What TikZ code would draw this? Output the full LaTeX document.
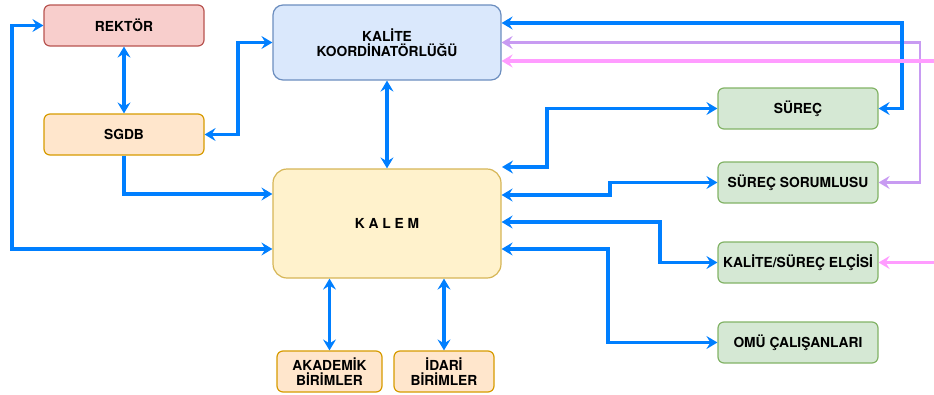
\documentclass[tikz,border=0pt]{standalone}
\usepackage{fontspec}
\setmainfont{TeX Gyre Heros}
\usetikzlibrary{arrows.meta,calc}
\definecolor{cblue}{HTML}{007FFF}
\definecolor{cpurple}{HTML}{C89BF2}
\definecolor{cpink}{HTML}{FF9CFF}
\definecolor{redf}{HTML}{F8CECC}\definecolor{redd}{HTML}{B85450}
\definecolor{orf}{HTML}{FFE6CC}\definecolor{ord}{HTML}{D79B00}
\definecolor{bluf}{HTML}{DAE8FC}\definecolor{blud}{HTML}{6C8EBF}
\definecolor{yelf}{HTML}{FFF2CC}\definecolor{yeld}{HTML}{D6B656}
\definecolor{grnf}{HTML}{D5E8D4}\definecolor{grnd}{HTML}{82B366}
\tikzset{
  box/.style={draw, line width=1.2pt, rounded corners=6pt, inner sep=0pt, align=center,
    font=\fontsize{13.8}{15.5}\selectfont\bfseries, text=black},
  redbox/.style={box, fill=redf, draw=redd, minimum width=160pt, minimum height=41pt},
  orbox/.style={box, fill=orf, draw=ord, minimum height=41pt},
  grnbox/.style={box, fill=grnf, draw=grnd, minimum width=160pt, minimum height=41pt},
  tipk/.tip={Stealth[length=11pt,width=13pt,inset=4pt]},
  conn/.style={line width=3.6pt, draw=cblue},
  arrowone/.style={conn, -tipk},
  biarrow/.style={conn, tipk-tipk},
}
\begin{document}
\begin{tikzpicture}[x=1pt,y=-1pt]
\useasboundingbox (0,0) rectangle (934,394);
% nodes
\node[redbox] (rek) at (124,25.5) {REKTÖR};
\node[orbox, minimum width=160pt] (sgdb) at (124,134.5) {SGDB};
\node[box, fill=bluf, draw=blud, minimum width=228pt, minimum height=75pt, rounded corners=10pt] (kk) at (387,42.5) {KALİTE\\KOORDİNATÖRLÜĞÜ};
\node[box, fill=yelf, draw=yeld, minimum width=228pt, minimum height=109pt, rounded corners=14pt] (kalem) at (387,223.5) {K A L E M};
\node[orbox, minimum width=105pt] (akad) at (329.5,371.5) {AKADEMİK\\BİRİMLER};
\node[orbox, minimum width=100pt] (idari) at (444,371.5) {İDARİ\\BİRİMLER};
\node[grnbox] (surec) at (798,108.5) {SÜREÇ};
\node[grnbox] (sorum) at (798,182.5) {SÜREÇ SORUMLUSU};
\node[grnbox] (elci) at (798,262.5) {KALİTE/SÜREÇ ELÇİSİ};
\node[grnbox] (omu) at (798,342.5) {OMÜ ÇALIŞANLARI};
\coordinate (ktop) at (502,167);
\coordinate (pinkA) at (936,61);
\coordinate (pinkB) at (936,262.5);
% purple
\draw[line width=2.6pt, draw=cpurple, tipk-tipk] (sorum.east) -- (920,182.5) |- (kk.east);
% blue
\draw[biarrow] (rek.south) -- (sgdb.north);
\draw[biarrow] (sgdb.east) -- (238,134.5) |- (kk.west);
\draw[arrowone] (sgdb.south) |- (kalem.west |- 0,194);
\draw[biarrow] (kalem.west |- 0,249) -| (12,25.5) -- (rek.west);
\draw[biarrow] (kk.south) -- (kalem.north);
\draw[biarrow] (akad.north) -- (akad.north |- kalem.south);
\draw[biarrow] (idari.north) -- (idari.north |- kalem.south);
\draw[biarrow] (ktop) -- (547,167) |- (surec.west);
\draw[biarrow] (kalem.east |- 0,195) -- (610,195) |- (sorum.west);
\draw[biarrow] (kalem.east |- 0,222) -- (660,222) |- (elci.west);
\draw[biarrow] (kalem.east |- 0,249) -- (608,249) |- (omu.west);
\draw[biarrow] (surec.east) -- (902,108.5) |- (kk.east |- 0,23);
% pink
\draw[line width=3.6pt, draw=cpink, -tipk] (pinkA) -- (kk.east |- pinkA);
\draw[line width=3.6pt, draw=cpink, -tipk] (pinkB) -- (elci.east);
\end{tikzpicture}
\end{document}
